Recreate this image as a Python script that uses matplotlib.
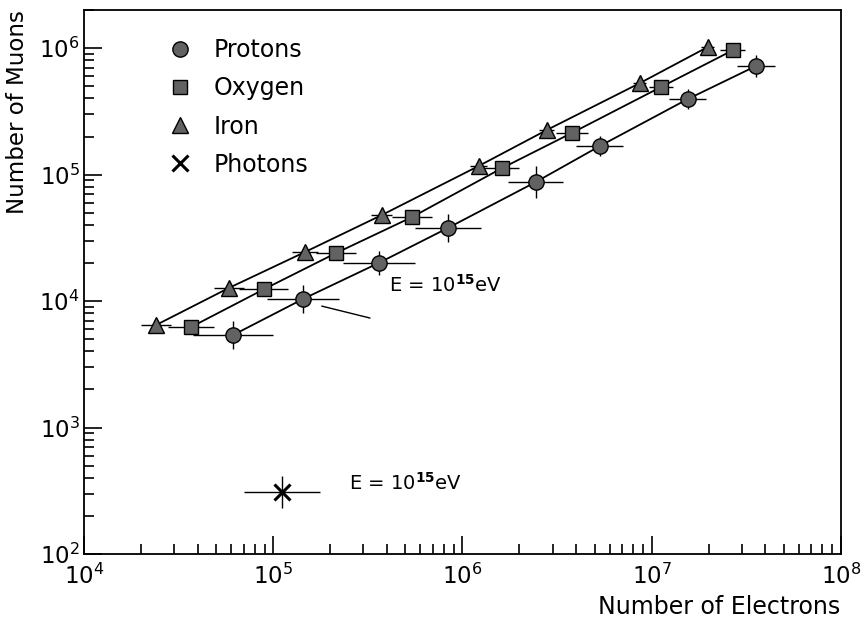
import numpy as np
import matplotlib
matplotlib.use("Agg")
import matplotlib.pyplot as plt
from matplotlib.lines import Line2D

# shower sizes (electrons, muons)
protons_ne = [6.12e4, 1.44e5, 3.61e5, 8.37e5, 2.44e6, 5.32e6, 1.55e7, 3.55e7]
protons_nmu = [5.38e3, 1.04e4, 2.00e4, 3.78e4, 8.73e4, 1.68e5, 3.95e5, 7.20e5]
protons_xerr = [0.21, 0.19, 0.19, 0.175, 0.145, 0.125, 0.10, 0.10]   # dex
protons_yerr = [0.11, 0.11, 0.095, 0.11, 0.125, 0.08, 0.08, 0.085]   # dex

oxygen_ne = [3.67e4, 8.93e4, 2.14e5, 5.41e5, 1.61e6, 3.78e6, 1.12e7, 2.68e7]
oxygen_nmu = [6.22e3, 1.24e4, 2.39e4, 4.61e4, 1.12e5, 2.13e5, 4.92e5, 9.60e5]
oxygen_xerr = [0.12, 0.13, 0.105, 0.105, 0.09, 0.085, 0.065, 0.065]

iron_ne = [2.40e4, 5.83e4, 1.47e5, 3.75e5, 1.22e6, 2.79e6, 8.65e6, 1.98e7]
iron_nmu = [6.46e3, 1.27e4, 2.44e4, 4.79e4, 1.17e5, 2.25e5, 5.28e5, 1.02e6]
iron_xerr = [0.08, 0.08, 0.07, 0.055, 0.045, 0.04, 0.035, 0.035]

photon_ne = [1.11e5]
photon_nmu = [3.09e2]
photon_xerr = [0.20]
photon_yerr = [0.13]


def dex_err(v, d):
    v = np.asarray(v)
    d = np.asarray(d)
    return [v - v * 10 ** (-d), v * 10 ** d - v]


plt.rcParams["font.family"] = ["DejaVu Sans"]

fig = plt.figure(figsize=(8.68, 6.29), dpi=100)
ax = fig.add_axes([0.0968, 0.1192, 0.8718, 0.8648])
ax.set_xscale("log")
ax.set_yscale("log")

face = "#626262"

for ne, nmu in [(protons_ne, protons_nmu), (oxygen_ne, oxygen_nmu),
                (iron_ne, iron_nmu)]:
    ax.plot(ne, nmu, color="black", lw=1.3, zorder=2)

ax.errorbar(protons_ne, protons_nmu,
            xerr=dex_err(protons_ne, protons_xerr),
            yerr=dex_err(protons_nmu, protons_yerr),
            fmt="o", ms=11, mfc=face, mec="black", mew=1,
            ecolor="black", elinewidth=1, capsize=0, zorder=3)
ax.errorbar(oxygen_ne, oxygen_nmu,
            xerr=dex_err(oxygen_ne, oxygen_xerr),
            fmt="s", ms=10, mfc=face, mec="black", mew=1,
            ecolor="black", elinewidth=1, capsize=0, zorder=3)
ax.errorbar(iron_ne, iron_nmu,
            xerr=dex_err(iron_ne, iron_xerr),
            fmt="^", ms=11, mfc=face, mec="black", mew=1,
            ecolor="black", elinewidth=1, capsize=0, zorder=3)
ax.errorbar(photon_ne, photon_nmu,
            xerr=dex_err(photon_ne, photon_xerr),
            yerr=dex_err(photon_nmu, photon_yerr),
            fmt="x", ms=11, mec="black", mew=2.2,
            ecolor="black", elinewidth=1, capsize=0, zorder=3)

# energy labels
ax.plot([1.81e5, 3.24e5], [9.12e3, 7.35e3], color="black", lw=1)
ax.text(4.08e5, 1.34e4, r"E = 10$^{\bf 15}$eV", fontsize=14, va="center")
ax.text(2.51e5, 3.64e2, r"E = 10$^{\bf 15}$eV", fontsize=14, va="center")

ax.set_xlim(1e4, 1e8)
ax.set_ylim(1e2, 2e6)

for s in ax.spines.values():
    s.set_linewidth(1.3)
ax.tick_params(which="both", direction="in", top=False, right=False,
               labelsize=16.5, width=1.2)
ax.tick_params(which="major", length=13, pad=7)
ax.tick_params(which="minor", length=7)
ax.tick_params(axis="y", pad=3)

ax.set_xlabel("Number of Electrons", fontsize=17, loc="right")
ax.set_ylabel("Number of Muons", fontsize=16.5, loc="top")
ax.yaxis.set_label_coords(-0.073, 1.0)

handles = [
    Line2D([], [], ls="none", marker="o", ms=11, mfc=face, mec="black"),
    Line2D([], [], ls="none", marker="s", ms=10, mfc=face, mec="black"),
    Line2D([], [], ls="none", marker="^", ms=11, mfc=face, mec="black"),
    Line2D([], [], ls="none", marker="x", ms=11, mec="black", mew=2.2),
]
ax.legend(handles, ["Protons", "Oxygen", "Iron", "Photons"],
          loc="upper left", bbox_to_anchor=(0.096, 0.97), frameon=False,
          fontsize=17, handlelength=1.0, handletextpad=0.9,
          labelspacing=0.6, borderpad=0)

fig.savefig("out.png", dpi=100)
